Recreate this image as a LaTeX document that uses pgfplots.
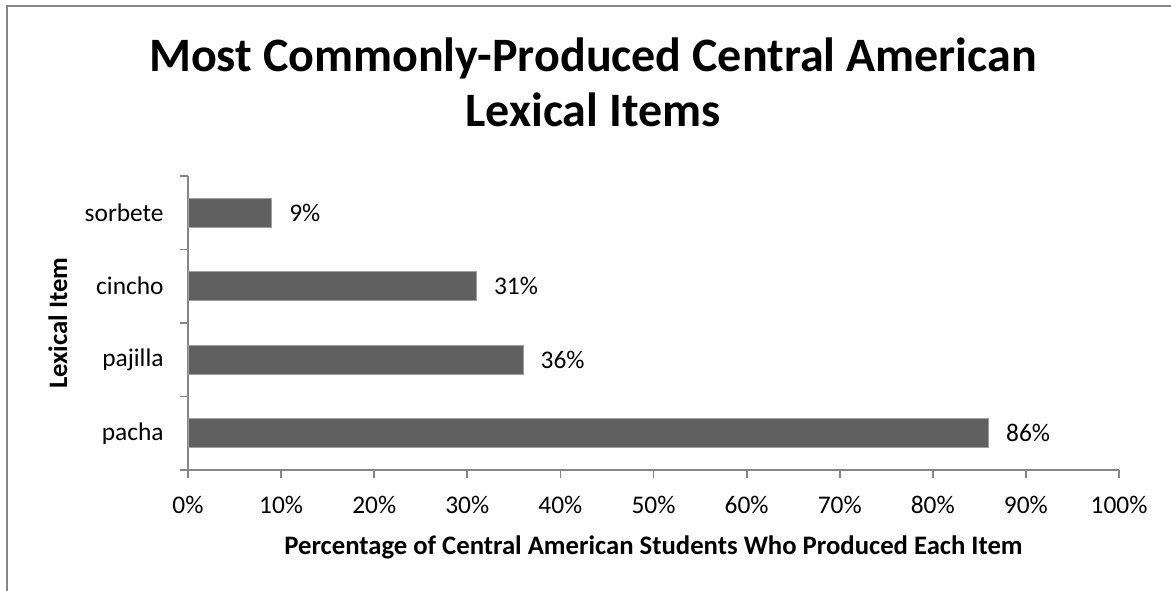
\documentclass[border=0pt]{standalone}
\usepackage{fontspec}
\setmainfont{Carlito}
\usepackage{pgfplots}
\pgfplotsset{compat=1.18}
\definecolor{barfill}{HTML}{606060}
\definecolor{barline}{HTML}{A0A0A0}
\definecolor{axisgray}{HTML}{868686}
\begin{document}
\begin{tikzpicture}
\useasboundingbox (0,0) rectangle (585.5pt,-295pt);
\draw[axisgray, line width=1pt] (3.5pt,-296pt) -- (3.5pt,-2.75pt) -- (586pt,-2.75pt);
\begin{axis}[
  at={(94pt,-235pt)}, anchor=south west,
  scale only axis, width=465.5pt, height=147pt,
  xmin=0, xmax=100, ymin=-0.5, ymax=3.5,
  axis lines=left,
  axis line style={-, axisgray, line width=0.9pt},
  tick style={axisgray, line width=0.9pt},
  tick align=outside,
  major tick length=4pt,
  xtick={0,10,...,100},
  xticklabels={0\%,10\%,20\%,30\%,40\%,50\%,60\%,70\%,80\%,90\%,100\%},
  xticklabel style={anchor=base, inner sep=0pt, yshift=-17.5pt},
  ytick={-0.5,0.5,1.5,2.5,3.5},
  yticklabels={\empty,\empty,\empty,\empty,\empty},
  extra y ticks={0,1,2,3},
  extra y tick labels={pacha,pajilla,cincho,sorbete},
  extra y tick style={major tick length=0pt, yticklabel style={anchor=east, inner sep=0pt, xshift=-12pt}},
  tick label style={font=\fontsize{12.7}{15}\selectfont, black},
  xbar,
  bar width=14.5pt,
  point meta=x,
  nodes near coords={\pgfmathprintnumber[assume math mode=true]{\pgfplotspointmeta}\%},
  every node near coord/.append style={anchor=west, inner sep=0pt, xshift=8.5pt, font=\fontsize{12.7}{15}\selectfont, black},
  clip=false,
]
\addplot[fill=barfill, draw=barline, line width=0.5pt] coordinates {(86,0) (36,1) (31,2) (9,3)};
\end{axis}
\node[anchor=base, font=\fontsize{24}{28}\selectfont\bfseries] at (296.5pt,-35.5pt) {Most Commonly-Produced Central American};
\node[anchor=base, font=\fontsize{24}{28}\selectfont\bfseries] at (296.5pt,-63.25pt) {Lexical Items};
\node[anchor=base, font=\fontsize{13.35}{16}\selectfont\bfseries] at (326.75pt,-277pt) {Percentage of Central American Students Who Produced Each Item};
\node[anchor=base, rotate=90, font=\fontsize{13.35}{16}\selectfont\bfseries] at (33.5pt,-161.5pt) {Lexical Item};
\end{tikzpicture}
\end{document}
